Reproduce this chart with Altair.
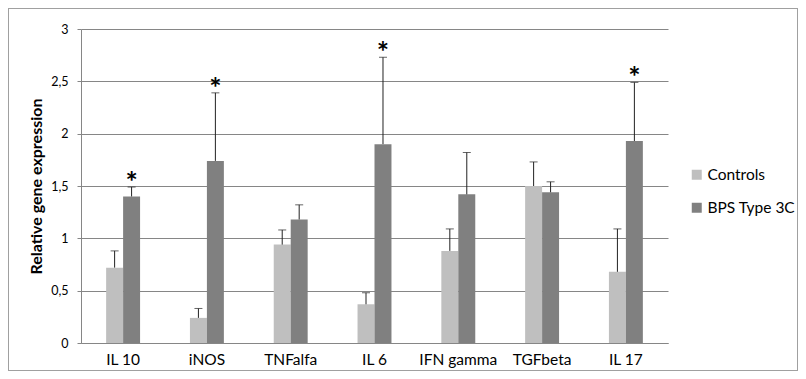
import altair as alt
import pandas as pd

genes = ["IL 10", "iNOS", "TNFalfa", "IL 6", "IFN gamma", "TGFbeta", "IL 17"]
series = ["Controls", "BPS Type 3C"]
controls = [0.72, 0.24, 0.94, 0.37, 0.88, 1.50, 0.68]
controls_err = [0.88, 0.33, 1.08, 0.48, 1.09, 1.73, 1.09]
bps = [1.40, 1.74, 1.18, 1.90, 1.42, 1.44, 1.93]
bps_err = [1.49, 2.39, 1.32, 2.73, 1.82, 1.54, 2.49]
bps_signif = [True, True, False, True, False, False, True]

rows = []
for i, g in enumerate(genes):
    rows.append({"gene": g, "series": series[0], "value": controls[i], "err": controls_err[i], "star": ""})
    rows.append({"gene": g, "series": series[1], "value": bps[i], "err": bps_err[i],
                 "star": "*" if bps_signif[i] else ""})
df = pd.DataFrame(rows)

FONT = "Lato"
W, H = 587, 314

x = alt.X("gene:N", sort=genes, title=None,
          scale=alt.Scale(paddingInner=0.595, paddingOuter=0.3),
          axis=alt.Axis(labelAngle=0, ticks=False, labelPadding=9, labelFontSize=15.5,
                        labelColor="#000", domainColor="#868686", labelFont=FONT))
xo = alt.XOffset("series:N", sort=series)

base = alt.Chart(df).encode(x=x, xOffset=xo)

bars = base.mark_bar().encode(
    y=alt.Y("value:Q", title="Relative gene expression",
            scale=alt.Scale(domain=[0, 3], nice=False),
            axis=alt.Axis(values=[0, 0.5, 1, 1.5, 2, 2.5, 3], format="~g",
                          labelExpr="replace(datum.label, '.', ',')",
                          gridColor="#868686", gridWidth=1, domainColor="#868686",
                          tickColor="#868686", tickSize=4, labelPadding=9,
                          labelFontSize=12.5, labelColor="#000", labelFont=FONT,
                          titleFont=FONT, titleFontSize=16, titleFontWeight="bold",
                          titleColor="#000", titlePadding=6)),
    color=alt.Color("series:N", sort=series,
                    scale=alt.Scale(domain=series, range=["#BFBFBF", "#808080"]),
                    legend=alt.Legend(title=None, orient="none", legendX=608, legendY=138,
                                      symbolType="square", symbolSize=100,
                                      symbolStrokeWidth=0, labelFontSize=15.5,
                                      labelFont=FONT, labelColor="#000",
                                      rowPadding=16, labelOffset=3)),
)

rules = base.mark_rule(color="#222", strokeWidth=1).encode(
    y="value:Q", y2="err:Q")
caps = base.mark_tick(color="#222", thickness=1, size=8).encode(y="err:Q")
stars = base.mark_text(fontSize=29, fontWeight="bold", font=FONT, color="#000",
                       baseline="alphabetic", dy=5).encode(
    y="err:Q", text="star:N")

frame = alt.Chart(df).mark_rect(fill=None, stroke="#A0A0A0", strokeWidth=1).encode(
    x=alt.value(-72.5), x2=alt.value(W + 129.5), y=alt.value(-20.5), y2=alt.value(H + 27.5))

chart = alt.layer(bars, rules, caps, stars, frame).properties(
    width=W, height=H, autosize=alt.AutoSizeParams(type="none"),
    padding={"left": 73, "top": 21, "right": 130, "bottom": 28},
).configure_view(stroke=None).configure_axis(grid=True).configure_axisX(grid=False)

chart.save("out.html", embed_options={"renderer": "svg", "actions": False})
